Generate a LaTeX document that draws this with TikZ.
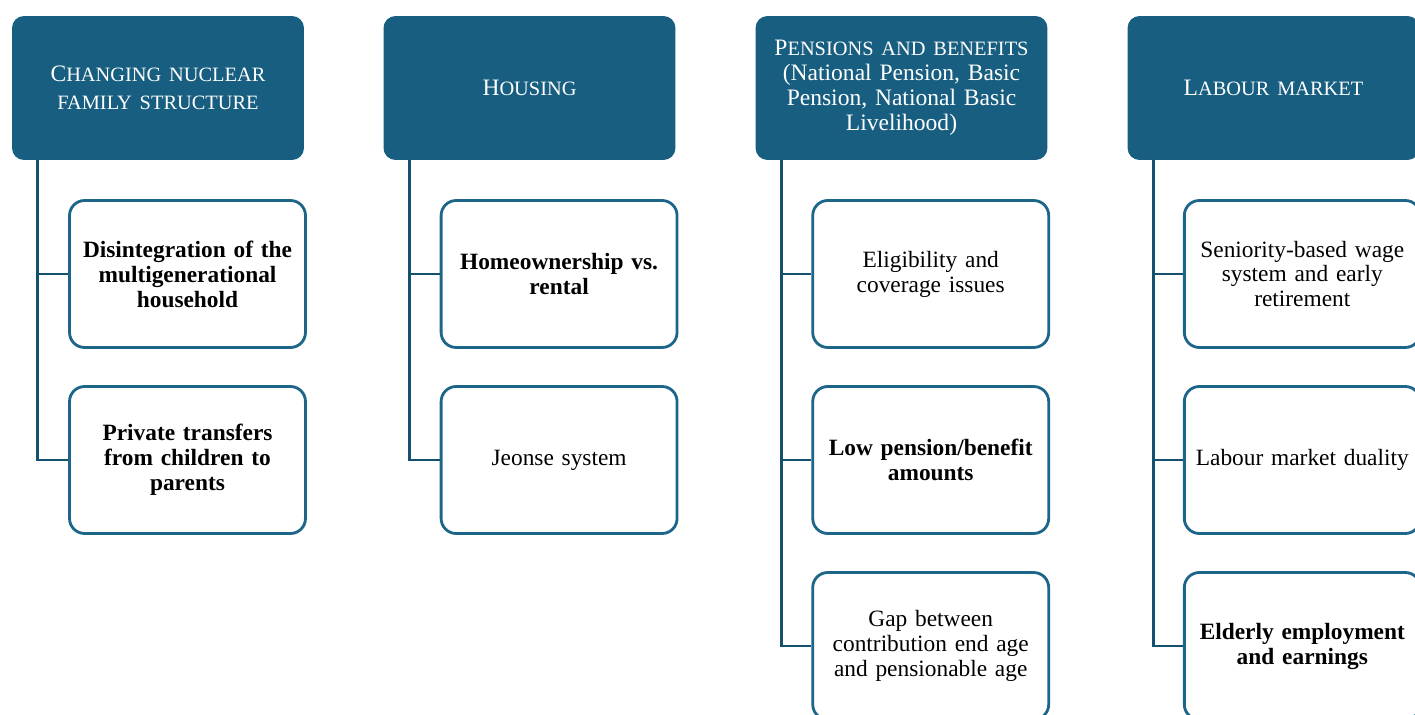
\documentclass[tikz,border=0pt]{standalone}
\usepackage{fontspec}
\setmainfont{Liberation Serif}
\usepackage{tikz}

\definecolor{headblue}{HTML}{175E80}
\definecolor{itemblue}{HTML}{1D6689}
\definecolor{linkblue}{HTML}{15506E}

% small capitals for the headings
\newcommand{\smc}[1]{{\fontsize{11.6}{14.2}\selectfont #1}}

\tikzset{
	head/.style={fill=headblue, rounded corners=0.24cm, minimum width=5.84cm,
		minimum height=2.88cm, text width=5.6cm, align=center, text=white,
		inner sep=0pt, font=\fontsize{13.4}{14.2}\selectfont},
	item/.style={draw=itemblue, line width=1.6pt, fill=white, rounded corners=0.3cm,
		minimum width=4.72cm, minimum height=2.94cm, text width=4.6cm,
		align=center, inner sep=0pt, font=\fontsize{13.3}{14.2}\selectfont},
	link/.style={draw=linkblue, line width=1.7pt}
}

\begin{document}
\begin{tikzpicture}[x=0.02cm,y=-0.02cm]

\useasboundingbox (0,0) rectangle (1415,715);

\foreach \i/\x/\txt in {1/158/{C\smc{HANGING NUCLEAR}\\[2pt]\smc{FAMILY STRUCTURE}},
					2/529.5/{H\smc{OUSING}},
					3/901.5/{P\smc{ENSIONS AND BENEFITS}\\(National Pension, Basic\\Pension, National Basic\\Livelihood)},
					4/1273.5/{L\smc{ABOUR MARKET}}}
{
	\node[head] (h\i) at (\x,88) {\txt};
};

\foreach \i/\j/\txt in {1/1/{\textbf{Disintegration of the}\\\textbf{multigenerational}\\\textbf{household}},
					1/2/{\textbf{Private transfers}\\\textbf{from children to}\\\textbf{parents}},
					2/1/{\textbf{Homeownership vs.}\\\textbf{rental}},
					2/2/{Jeonse system},
					3/1/{Eligibility and\\coverage issues},
					3/2/{\textbf{Low pension/benefit}\\\textbf{amounts}},
					3/3/{Gap between\\contribution end age\\and pensionable age},
					4/1/{Seniority-based wage\\system and early\\retirement},
					4/2/{Labour market duality},
					4/3/{\textbf{Elderly employment}\\\textbf{and earnings}}}
{
	\node[item] (c\i\j) at ({187.5+371.6*(\i-1)},{274+186*(\j-1)}) {\txt};
};

% tree lines from each heading down to its items
\foreach \i/\j in {1/1, 1/2, 2/1, 2/2, 3/1, 3/2, 3/3, 4/1, 4/2, 4/3}
{
	\path[link] ([xshift=0.52cm]h\i.south west) |- (c\i\j.west);
};
\end{tikzpicture}
\end{document}
